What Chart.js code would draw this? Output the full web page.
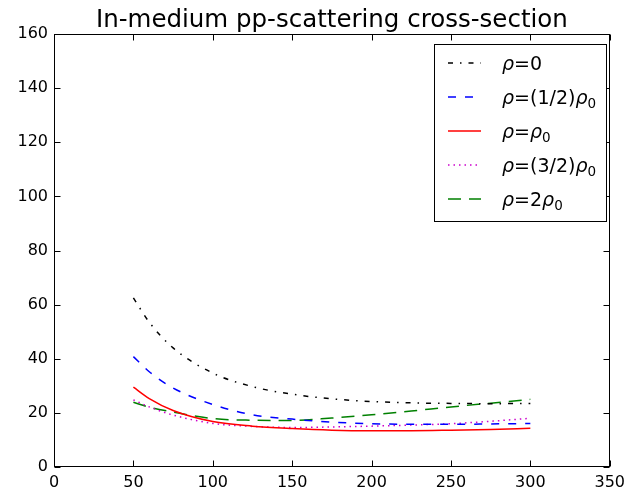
<!DOCTYPE html>
<html>
<head>
<meta charset="utf-8">
<script src="https://cdn.jsdelivr.net/npm/chart.js@4"></script>
<style>
  html, body { margin: 0; padding: 0; background: #fff; }
  #wrap { width: 631px; height: 492px; }
</style>
</head>
<body>
<div id="wrap"><canvas id="chart" width="631" height="492"></canvas></div>
<script>
// values
const energies = [50, 60, 75, 100, 125, 150, 175, 200, 225, 250, 275, 300];
const rho0         = [62.5, 53.5, 44.0, 34.7, 29.7, 26.9, 25.2, 24.2, 23.7, 23.5, 23.4, 23.5];
const rhoHalf      = [40.8, 35.2, 29.2, 23.1, 19.3, 17.7, 16.6, 16.0, 15.8, 15.8, 15.9, 16.1];
const rhoOne       = [29.5, 25.3, 20.9, 16.8, 15.1, 14.2, 13.6, 13.4, 13.4, 13.6, 13.9, 14.3];
const rhoThreeHalf = [24.8, 22.2, 19.2, 16.1, 15.0, 14.6, 14.8, 15.1, 15.5, 16.0, 16.9, 18.0];
const rhoTwo       = [23.9, 22.1, 20.3, 17.9, 17.3, 17.2, 18.1, 19.3, 20.7, 22.2, 23.6, 25.0];

const seriesLabels = ['ρ=0', 'ρ=(1/2)ρ₀', 'ρ=ρ₀', 'ρ=(3/2)ρ₀', 'ρ=2ρ₀'];
const xTicks = [0, 50, 100, 150, 200, 250, 300, 350];
const yTicks = [0, 20, 40, 60, 80, 100, 120, 140, 160];
const titleText = 'In-medium pp-scattering cross-section';

const FONT = 'DejaVu Sans';
Chart.defaults.font.family = FONT;
Chart.defaults.font.size = 16;
Chart.defaults.color = '#000';

function series(label, values, color, dash) {
    return {
        label,
        data: energies.map((x, i) => ({ x, y: values[i] })),
        borderColor: color,
        borderWidth: 1.5,
        borderDash: dash,
        pointRadius: 0,
        cubicInterpolationMode: 'monotone',
        fill: false
    };
}

// frame with inward ticks on all four sides
const framePlugin = {
    id: 'frame',
    afterDatasetsDraw(chart) {
        const { ctx, chartArea: a, scales: { x, y } } = chart;
        const L = Math.round(a.left) + 0.5, R = Math.round(a.right) - 0.5;
        const T = Math.round(a.top) + 0.5, B = Math.round(a.bottom) - 0.5;
        const len = 6;
        ctx.save();
        ctx.strokeStyle = '#000';
        ctx.lineWidth = 1;
        ctx.setLineDash([]);
        ctx.beginPath();
        xTicks.forEach(v => {
            const px = Math.round(x.getPixelForValue(v)) + 0.5;
            ctx.moveTo(px, B); ctx.lineTo(px, B - len);
            ctx.moveTo(px, T); ctx.lineTo(px, T + len);
        });
        yTicks.forEach(v => {
            const py = Math.round(y.getPixelForValue(v)) + 0.5;
            ctx.moveTo(L, py); ctx.lineTo(L + len, py);
            ctx.moveTo(R, py); ctx.lineTo(R - len, py);
        });
        ctx.stroke();
        ctx.strokeRect(L, T, R - L, B - T);
        ctx.restore();
    }
};

const titlePlugin = {
    id: 'plotTitle',
    afterDraw(chart) {
        const { ctx, chartArea: a } = chart;
        ctx.save();
        ctx.font = '24.5px "' + FONT + '"';
        ctx.fillStyle = '#000';
        ctx.textAlign = 'center';
        ctx.textBaseline = 'alphabetic';
        ctx.fillText(titleText, (a.left + a.right) / 2, 27);
        ctx.restore();
    }
};

// mathtext-like label: italic rho, lowered smaller subscript zero
function drawMathLabel(ctx, text, x, y) {
    for (const ch of text) {
        let s = ch, dy = 0;
        if (ch === 'ρ') {
            ctx.font = 'italic 19px "' + FONT + '"';
        } else if (ch === '₀') {
            ctx.font = '13.5px "' + FONT + '"';
            s = '0'; dy = 4;
        } else {
            ctx.font = '19px "' + FONT + '"';
        }
        ctx.fillText(s, x, y + dy);
        x += ctx.measureText(s).width;
    }
}

const legendPlugin = {
    id: 'boxLegend',
    afterDraw(chart) {
        const ctx = chart.ctx;
        const box = { x: 434.5, y: 44.5, w: 172, h: 177 };
        ctx.save();
        ctx.fillStyle = '#fff';
        ctx.fillRect(box.x, box.y, box.w, box.h);
        ctx.strokeStyle = '#000';
        ctx.lineWidth = 1;
        ctx.setLineDash([]);
        ctx.strokeRect(box.x, box.y, box.w, box.h);
        ctx.textAlign = 'left';
        ctx.textBaseline = 'alphabetic';
        chart.data.datasets.forEach((ds, i) => {
            const rowY = 63 + i * 34;
            ctx.strokeStyle = ds.borderColor;
            ctx.lineWidth = ds.borderWidth;
            ctx.setLineDash(ds.borderDash || []);
            ctx.beginPath();
            ctx.moveTo(448, rowY);
            ctx.lineTo(481, rowY);
            ctx.stroke();
            ctx.fillStyle = '#000';
            drawMathLabel(ctx, ds.label, 502, rowY + 7);
        });
        ctx.restore();
    }
};

new Chart(document.getElementById('chart'), {
    type: 'line',
    data: {
        datasets: [
            series(seriesLabels[0], rho0, '#000000', [5, 7, 1.5, 7]),
            series(seriesLabels[1], rhoHalf, '#0000ff', [8, 9]),
            series(seriesLabels[2], rhoOne, '#ff0000', []),
            series(seriesLabels[3], rhoThreeHalf, '#cc00cc', [1.5, 4]),
            series(seriesLabels[4], rhoTwo, '#008000', [13, 8])
        ]
    },
    options: {
        responsive: false,
        animation: false,
        layout: { padding: { top: 34, right: 15, left: 0, bottom: 0 } },
        plugins: {
            legend: { display: false },
            title: { display: false },
            tooltip: { enabled: false }
        },
        scales: {
            x: {
                type: 'linear',
                min: 0, max: 350,
                grid: { display: false, drawTicks: false },
                border: { display: false },
                afterBuildTicks: s => { s.ticks = xTicks.map(v => ({ value: v })); },
                afterFit: s => { s.height = 25; },
                ticks: { padding: 6, maxRotation: 0, autoSkip: false }
            },
            y: {
                type: 'linear',
                min: 0, max: 160,
                grid: { display: false, drawTicks: false },
                border: { display: false },
                afterBuildTicks: s => { s.ticks = yTicks.map(v => ({ value: v })); },
                afterFit: s => { s.width = 54; },
                ticks: { padding: 6, autoSkip: false }
            }
        }
    },
    plugins: [framePlugin, titlePlugin, legendPlugin]
});
</script>
</body>
</html>
